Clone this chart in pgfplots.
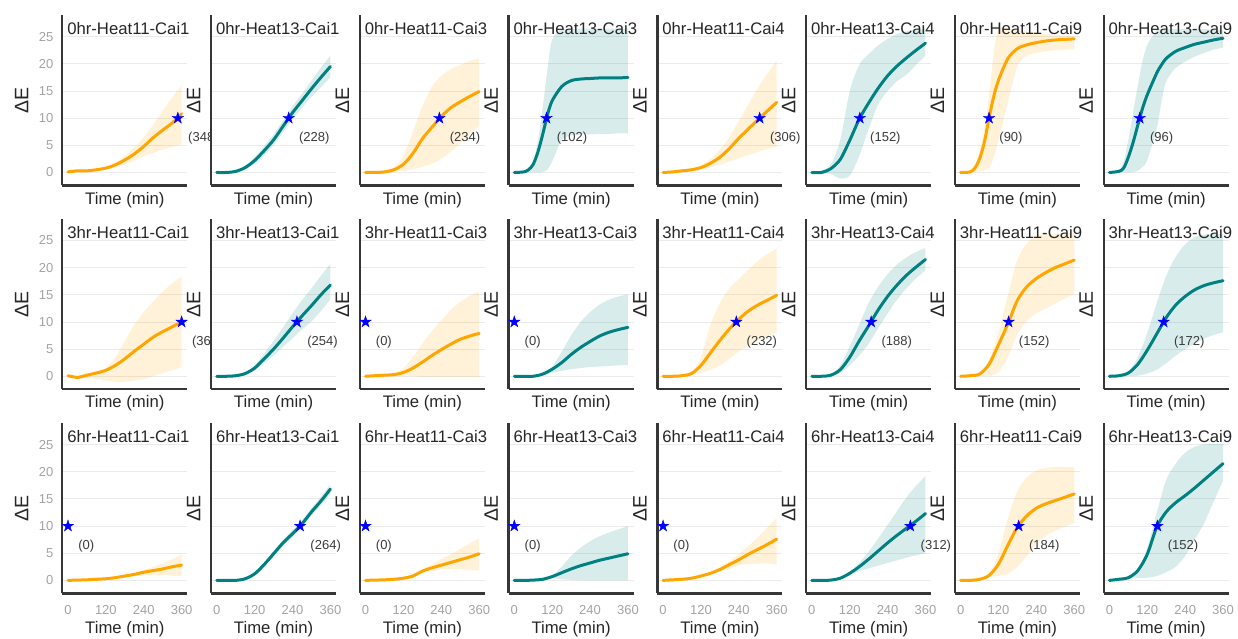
\documentclass[border=0pt]{standalone}
\usepackage{fontspec}
\setmainfont{Liberation Sans}
\usepackage{pgfplots}
\pgfplotsset{compat=1.18}
\usepackage{pgfplotstable}
\usepgfplotslibrary{fillbetween}

\definecolor{orangec}{HTML}{FFA500}
\definecolor{tealc}{HTML}{008080}
\definecolor{spine}{HTML}{363636}
\definecolor{gridc}{HTML}{EBEBEB}
\definecolor{tickc}{HTML}{A3A3A3}
\definecolor{labc}{HTML}{262626}
\definecolor{annc}{HTML}{3A3A3A}

\newcommand\labsize{\fontsize{16.7pt}{20pt}\selectfont}
\newcommand\ylabsize{\fontsize{19.5pt}{22pt}\selectfont}
\newcommand\ticksize{\fontsize{13pt}{15pt}\selectfont}
\newcommand\annsize{\fontsize{13pt}{15pt}\selectfont}

\pgfdeclareplotmark{fstar}{%
 \pgfpathmoveto{\pgfpointpolar{90}{\pgfplotmarksize}}%
 \pgfpathlineto{\pgfpointpolar{126}{0.382\pgfplotmarksize}}%
 \pgfpathlineto{\pgfpointpolar{162}{\pgfplotmarksize}}%
 \pgfpathlineto{\pgfpointpolar{198}{0.382\pgfplotmarksize}}%
 \pgfpathlineto{\pgfpointpolar{234}{\pgfplotmarksize}}%
 \pgfpathlineto{\pgfpointpolar{270}{0.382\pgfplotmarksize}}%
 \pgfpathlineto{\pgfpointpolar{306}{\pgfplotmarksize}}%
 \pgfpathlineto{\pgfpointpolar{342}{0.382\pgfplotmarksize}}%
 \pgfpathlineto{\pgfpointpolar{18}{\pgfplotmarksize}}%
 \pgfpathlineto{\pgfpointpolar{54}{0.382\pgfplotmarksize}}%
 \pgfpathclose\pgfusepathqfillstroke}

% ---------------- data: t mean lower upper ----------------
\pgfplotstableread{
t m lo hi
0 0.1 0.0 0.2
30 0.3 0.2 0.4
60 0.3 0.2 0.5
90 0.5 0.3 0.7
120 0.8 0.5 1.1
150 1.4 0.9 1.8
180 2.3 1.5 3.0
210 3.4 2.2 4.6
240 4.8 3.0 6.5
270 6.4 3.6 8.8
300 7.8 4.2 11.3
330 9.1 4.7 13.8
360 10.8 5.2 16.0
}\tabA
\pgfplotstableread{
t m lo hi
0 0.0 -0.1 0.1
30 0.0 -0.1 0.1
60 0.2 0.1 0.3
90 0.9 0.6 1.2
120 2.2 1.6 2.8
150 4.0 3.1 4.9
180 6.0 5.0 7.0
210 8.5 7.4 9.6
240 11.0 9.8 12.2
270 13.2 11.9 14.5
300 15.4 13.9 16.9
330 17.5 15.7 19.3
360 19.5 17.5 21.5
}\tabB
\pgfplotstableread{
t m lo hi
0 0.0 0.0 0.1
30 0.0 0.0 0.1
60 0.1 0.0 0.3
90 0.5 0.1 1.0
120 1.5 0.3 3.0
150 3.5 0.6 7.5
180 6.2 1.0 12.2
210 8.3 1.6 15.8
240 10.3 2.5 17.8
270 11.9 3.8 19.0
300 13.0 5.3 19.8
330 14.0 7.0 20.5
360 14.9 8.5 21.0
}\tabC
\pgfplotstableread{
t m lo hi
0 0.0 0.0 0.1
30 0.1 0.0 0.2
45 0.5 0.0 0.8
60 1.5 0.0 2.0
75 3.8 0.0 6.0
90 7.0 0.1 12.0
105 10.6 0.5 19.0
120 13.2 2.0 24.5
150 15.8 6.0 26.3
180 16.9 6.8 26.4
210 17.2 7.0 26.5
240 17.3 7.0 26.5
270 17.4 7.1 26.5
300 17.4 7.1 26.5
330 17.4 7.2 26.5
360 17.5 7.2 26.5
}\tabD
\pgfplotstableread{
t m lo hi
0 0.0 0.0 0.1
30 0.1 0.05 0.2
60 0.3 0.2 0.4
90 0.5 0.3 0.7
120 0.9 0.5 1.3
150 1.7 0.9 2.5
180 2.8 1.4 4.2
210 4.4 2.0 6.5
240 6.3 2.6 9.5
270 8.0 3.2 12.5
300 9.7 3.8 15.5
330 11.3 4.3 18.2
360 12.9 4.8 20.6
}\tabE
\pgfplotstableread{
t m lo hi
0 0.0 0.0 0.1
30 0.0 -0.1 0.3
60 0.7 -0.3 1.5
90 2.4 -1.1 6.0
120 5.9 -0.6 15.0
150 9.8 3.0 19.8
180 12.8 8.0 21.8
210 15.5 12.5 23.4
240 17.8 15.0 24.6
270 19.6 16.8 25.5
300 21.1 18.0 26.0
330 22.5 19.8 26.3
360 23.8 21.5 26.5
}\tabF
\pgfplotstableread{
t m lo hi
0 0.0 0.0 0.1
30 0.1 0.0 0.3
45 0.8 0.1 1.2
60 2.5 0.2 4.0
75 5.5 0.4 8.0
90 10.0 0.8 14.0
105 14.0 2.8 22.0
120 17.0 6.0 26.3
150 21.0 13.0 26.4
180 22.8 19.6 26.2
210 23.5 21.5 26.0
240 23.9 22.0 25.7
270 24.2 22.3 25.5
300 24.4 22.5 25.3
330 24.5 22.6 25.2
360 24.6 22.7 25.1
}\tabG
\pgfplotstableread{
t m lo hi
0 0.0 0.0 0.1
30 0.2 0.0 0.5
45 0.8 0.0 2.0
60 2.8 0.0 6.0
75 5.5 0.1 11.0
90 8.7 0.3 16.0
105 11.8 1.0 20.5
120 14.3 2.3 23.5
150 18.3 8.0 26.2
165 19.8 13.0 26.4
180 21.0 16.8 26.4
210 22.3 19.2 26.4
240 23.0 20.4 26.4
270 23.6 21.3 26.4
300 24.0 22.0 26.4
330 24.4 22.6 26.3
360 24.7 23.0 26.3
}\tabH
\pgfplotstableread{
t m lo hi
0 0.1 0.0 0.2
30 -0.2 -0.3 0.0
60 0.2 -0.3 0.4
90 0.6 -0.5 0.8
120 1.1 -0.8 1.5
150 2.0 -1.0 3.5
180 3.2 -1.0 6.5
210 4.6 -0.8 9.5
240 5.9 -0.5 11.8
270 7.2 0.0 13.8
300 8.2 0.6 15.6
330 9.1 1.1 17.1
360 10.0 1.7 18.4
}\tabI
\pgfplotstableread{
t m lo hi
0 0.0 0.0 0.1
30 0.0 0.0 0.1
60 0.1 0.05 0.2
90 0.5 0.4 0.7
120 1.5 1.1 2.0
150 3.2 2.4 4.2
180 5.0 3.8 6.5
210 7.0 5.4 9.0
240 9.1 7.0 11.6
270 11.1 8.6 14.0
300 13.0 10.1 16.2
330 15.0 12.0 18.5
360 16.8 14.2 20.7
}\tabJ
\pgfplotstableread{
t m lo hi
0 0.0 0.0 0.1
30 0.1 0.0 0.2
60 0.2 0.0 0.3
90 0.3 0.0 0.5
120 0.7 0.0 1.5
150 1.5 0.0 3.5
180 2.6 -0.1 6.0
210 3.8 -0.1 8.3
240 4.9 -0.1 10.3
270 5.9 -0.1 12.2
300 6.8 -0.1 13.7
330 7.4 -0.1 14.8
360 7.9 -0.1 15.6
}\tabK
\pgfplotstableread{
t m lo hi
0 0.0 0.0 0.1
30 0.0 0.0 0.1
60 0.0 0.0 0.1
90 0.4 0.2 0.5
120 1.3 0.6 1.8
150 2.5 1.0 4.5
180 4.0 1.3 7.5
210 5.3 1.5 10.0
240 6.4 1.7 11.8
270 7.4 1.8 13.2
300 8.1 1.9 14.1
330 8.6 2.0 14.7
360 9.0 2.1 15.1
}\tabL
\pgfplotstableread{
t m lo hi
0 0.0 0.0 0.1
30 0.0 0.0 0.1
60 0.1 0.0 0.2
90 0.5 0.2 0.7
120 2.0 0.6 3.5
150 4.3 1.2 9.5
180 6.6 2.0 13.5
210 8.7 3.2 16.2
240 10.5 4.6 17.9
270 12.0 5.6 19.6
300 13.1 6.6 21.2
330 14.0 7.4 22.5
360 14.9 8.1 23.5
}\tabM
\pgfplotstableread{
t m lo hi
0 0.0 0.0 0.1
30 0.0 0.0 0.1
60 0.2 0.1 0.4
90 1.2 0.6 2.0
120 3.5 2.0 5.5
150 6.5 3.8 9.5
180 9.3 6.0 13.5
210 12.2 8.8 16.5
240 14.7 11.6 18.8
270 16.8 14.1 20.6
300 18.6 16.2 21.9
330 20.1 18.0 22.9
360 21.5 19.5 23.6
}\tabN
\pgfplotstableread{
t m lo hi
0 0.0 0.0 0.1
30 0.1 0.0 0.2
60 0.4 0.1 0.6
90 2.2 0.1 3.0
120 5.8 0.8 8.0
150 9.7 3.5 15.0
180 14.0 7.8 21.5
210 16.5 10.2 24.5
240 18.0 11.6 25.8
270 19.1 12.5 26.2
300 20.0 13.4 26.3
330 20.7 14.3 26.3
360 21.4 15.2 26.3
}\tabO
\pgfplotstableread{
t m lo hi
0 0.0 0.0 0.1
30 0.1 0.0 0.2
60 0.6 0.0 0.8
90 2.2 0.1 3.5
120 4.8 0.5 8.0
150 7.8 1.2 13.5
180 10.8 2.4 18.5
210 13.1 3.8 22.0
240 14.7 5.0 24.3
270 15.9 6.0 25.6
300 16.7 6.9 26.1
330 17.2 7.6 26.2
360 17.6 8.1 26.2
}\tabP
\pgfplotstableread{
t m lo hi
0 0.0 0.0 0.05
30 0.05 0.0 0.1
60 0.1 0.05 0.15
90 0.2 0.1 0.3
120 0.3 0.2 0.4
150 0.5 0.4 0.6
180 0.8 0.6 1.0
210 1.1 0.8 1.4
240 1.5 0.9 1.9
270 1.8 1.0 2.5
300 2.1 0.9 3.1
330 2.5 0.9 3.9
360 2.8 0.8 4.7
}\tabQ
\pgfplotstableread{
t m lo hi
0 0.0 -0.05 0.05
30 0.0 -0.05 0.05
60 0.0 -0.05 0.05
90 0.3 0.15 0.45
120 1.2 0.9 1.5
150 2.9 2.5 3.3
180 4.9 4.4 5.4
210 6.9 6.35 7.45
240 8.6 8.0 9.2
270 10.4 9.75 11.05
300 12.6 11.9 13.3
330 14.6 13.8 15.4
360 16.8 15.9 17.7
}\tabR
\pgfplotstableread{
t m lo hi
0 0.0 0.0 0.05
30 0.05 0.0 0.1
60 0.1 0.05 0.15
90 0.2 0.15 0.25
120 0.4 0.3 0.5
150 0.8 0.7 0.9
180 1.7 1.3 2.0
210 2.3 1.7 3.0
240 2.8 2.0 3.9
270 3.3 2.1 4.8
300 3.8 2.0 5.8
330 4.3 1.9 6.8
360 4.9 1.8 7.8
}\tabS
\pgfplotstableread{
t m lo hi
0 0.0 0.0 0.05
30 0.0 0.0 0.05
60 0.05 0.0 0.1
90 0.2 0.1 0.3
120 0.7 0.4 0.9
150 1.4 0.2 2.5
180 2.1 0.1 4.5
210 2.7 0.05 6.0
240 3.2 0.0 7.2
270 3.7 0.0 8.1
300 4.1 0.0 8.8
330 4.5 0.0 9.4
360 4.9 0.0 10.0
}\tabT
\pgfplotstableread{
t m lo hi
0 0.0 0.0 0.05
30 0.1 0.05 0.15
60 0.2 0.15 0.25
90 0.4 0.3 0.5
120 0.8 0.7 0.9
150 1.3 1.1 1.5
180 2.0 1.6 2.4
210 2.9 2.1 3.5
240 3.8 2.7 4.8
270 4.8 3.0 6.3
300 5.7 3.1 7.9
330 6.6 3.1 9.7
360 7.6 3.0 11.5
}\tabU
\pgfplotstableread{
t m lo hi
0 0.0 0.0 0.05
30 0.0 0.0 0.05
60 0.05 0.0 0.1
90 0.4 0.3 0.5
120 1.3 1.0 1.6
150 2.5 1.7 3.2
180 3.9 2.2 5.3
210 5.4 2.7 7.7
240 6.9 3.2 10.2
270 8.3 3.7 12.8
300 9.6 4.2 15.3
330 10.9 4.6 17.4
360 12.3 5.0 19.2
}\tabV
\pgfplotstableread{
t m lo hi
0 0.0 0.0 0.05
30 0.0 0.0 0.05
60 0.2 0.1 0.3
90 0.9 0.6 1.2
120 3.0 0.8 5.0
150 6.5 1.2 11.5
180 9.8 2.5 16.5
210 11.9 4.5 19.0
240 13.3 6.8 20.2
270 14.1 8.2 20.7
300 14.7 9.1 20.9
330 15.3 9.9 20.9
360 15.9 10.6 20.8
}\tabW
\pgfplotstableread{
t m lo hi
0 0.0 0.0 0.05
30 0.2 0.1 0.3
60 0.5 0.3 0.6
90 1.8 0.4 2.0
120 4.8 0.5 6.0
150 9.8 0.8 12.5
180 12.6 1.5 18.5
210 14.3 2.5 21.5
240 15.6 4.5 23.5
270 17.0 7.5 24.6
300 18.5 10.5 25.0
330 20.0 14.5 25.1
360 21.5 18.3 25.1
}\tabX

\pgfplotsset{
 panel/.style={
  scale only axis, width=125pt, height=170pt,
  anchor=south west,
  xmin=-18, xmax=378, ymin=-2.4, ymax=28.9,
  axis x line*=bottom, axis y line*=left,
  axis line style={line width=2.3pt, draw=spine, -},
  xtick={0,120,240,360}, ytick={0,5,10,15,20,25},
  major tick length=0pt,
  ymajorgrids, major grid style={draw=gridc, line width=0.9pt},
  /pgf/number format/assume math mode=true,
  tick label style={font=\ticksize, text=tickc},
  xticklabel style={anchor=base, yshift=-21pt},
  yticklabel style={anchor=east, inner sep=0pt, xshift=-8.7pt},
  xlabel={Time (min)}, ylabel={ΔE},
  label style={text=labc},
  xlabel style={anchor=base, font=\labsize},
  ylabel style={anchor=center, font=\ylabsize},
  clip=false,
 },
 r12/.style={xticklabels={}, xlabel style={at={(axis description cs:0.5,-0.109)}}},
 r3/.style={xlabel style={at={(axis description cs:0.5,-0.233)}}},
 c1/.style={ylabel style={at={(axis description cs:-0.326,0.5)}}},
 cx/.style={yticklabels={}, ylabel style={at={(axis description cs:-0.14,0.5)}}},
}

% #1 table, #2 x, #3 y, #4 title, #5 colour, #6 t*, #7 styles
\newcommand{\panel}[7]{%
\pgfmathsetmacro\labw{148.7-((#6+18)*0.315657+10)}%
\begin{axis}[panel, at={(#2pt,#3pt)}, #7]
\addplot[draw=none, name path=hi, smooth] table[x=t,y=hi]{#1};
\addplot[draw=none, name path=lo, smooth] table[x=t,y=lo]{#1};
\addplot[fill=#5, fill opacity=0.15, draw=none] fill between[of=hi and lo];
\addplot[draw=#5, line width=3pt, smooth, line join=round, line cap=round] table[x=t,y=m]{#1};
\addplot[only marks, mark=fstar, mark size=6pt, mark options={fill=blue, draw=blue, line width=0.4pt}] coordinates {(#6,10)};
\node[anchor=west, inner sep=0pt, minimum width=\labw pt, minimum height=18pt, xshift=10pt, yshift=-20pt,
  path picture={\node[anchor=west, inner sep=0pt, minimum width=0pt, minimum height=0pt, xshift=0pt, yshift=0pt, font=\annsize, text=annc] at (path picture bounding box.west) {(#6)};}]
  at (axis cs:#6,10) {};
\node[anchor=north west, inner sep=0pt, font=\labsize, text=labc, xshift=4.8pt, yshift=-6.5pt] at (rel axis cs:0,1) {#4};
\end{axis}}

\begin{document}
\begin{tikzpicture}
% row 1
\panel{\tabA}{62.3}{452.5}{0hr-Heat11-Cai1}{orangec}{348}{r12,c1}
\panel{\tabB}{211.07}{452.5}{0hr-Heat13-Cai1}{tealc}{228}{r12,cx}
\panel{\tabC}{359.84}{452.5}{0hr-Heat11-Cai3}{orangec}{234}{r12,cx}
\panel{\tabD}{508.61}{452.5}{0hr-Heat13-Cai3}{tealc}{102}{r12,cx}
\panel{\tabE}{657.38}{452.5}{0hr-Heat11-Cai4}{orangec}{306}{r12,cx}
\panel{\tabF}{806.15}{452.5}{0hr-Heat13-Cai4}{tealc}{152}{r12,cx}
\panel{\tabG}{954.92}{452.5}{0hr-Heat11-Cai9}{orangec}{90}{r12,cx}
\panel{\tabH}{1103.69}{452.5}{0hr-Heat13-Cai9}{tealc}{96}{r12,cx}
% row 2
\panel{\tabI}{62.3}{248.7}{3hr-Heat11-Cai1}{orangec}{360}{r12,c1}
\panel{\tabJ}{211.07}{248.7}{3hr-Heat13-Cai1}{tealc}{254}{r12,cx}
\panel{\tabK}{359.84}{248.7}{3hr-Heat11-Cai3}{orangec}{0}{r12,cx}
\panel{\tabL}{508.61}{248.7}{3hr-Heat13-Cai3}{tealc}{0}{r12,cx}
\panel{\tabM}{657.38}{248.7}{3hr-Heat11-Cai4}{orangec}{232}{r12,cx}
\panel{\tabN}{806.15}{248.7}{3hr-Heat13-Cai4}{tealc}{188}{r12,cx}
\panel{\tabO}{954.92}{248.7}{3hr-Heat11-Cai9}{orangec}{152}{r12,cx}
\panel{\tabP}{1103.69}{248.7}{3hr-Heat13-Cai9}{tealc}{172}{r12,cx}
% row 3
\panel{\tabQ}{62.3}{44.6}{6hr-Heat11-Cai1}{orangec}{0}{r3,c1}
\panel{\tabR}{211.07}{44.6}{6hr-Heat13-Cai1}{tealc}{264}{r3,cx}
\panel{\tabS}{359.84}{44.6}{6hr-Heat11-Cai3}{orangec}{0}{r3,cx}
\panel{\tabT}{508.61}{44.6}{6hr-Heat13-Cai3}{tealc}{0}{r3,cx}
\panel{\tabU}{657.38}{44.6}{6hr-Heat11-Cai4}{orangec}{0}{r3,cx}
\panel{\tabV}{806.15}{44.6}{6hr-Heat13-Cai4}{tealc}{312}{r3,cx}
\panel{\tabW}{954.92}{44.6}{6hr-Heat11-Cai9}{orangec}{184}{r3,cx}
\panel{\tabX}{1103.69}{44.6}{6hr-Heat13-Cai9}{tealc}{152}{r3,cx}
\pgfresetboundingbox
\path[use as bounding box] (0,0) rectangle (1238pt,638pt);
\end{tikzpicture}
\end{document}
